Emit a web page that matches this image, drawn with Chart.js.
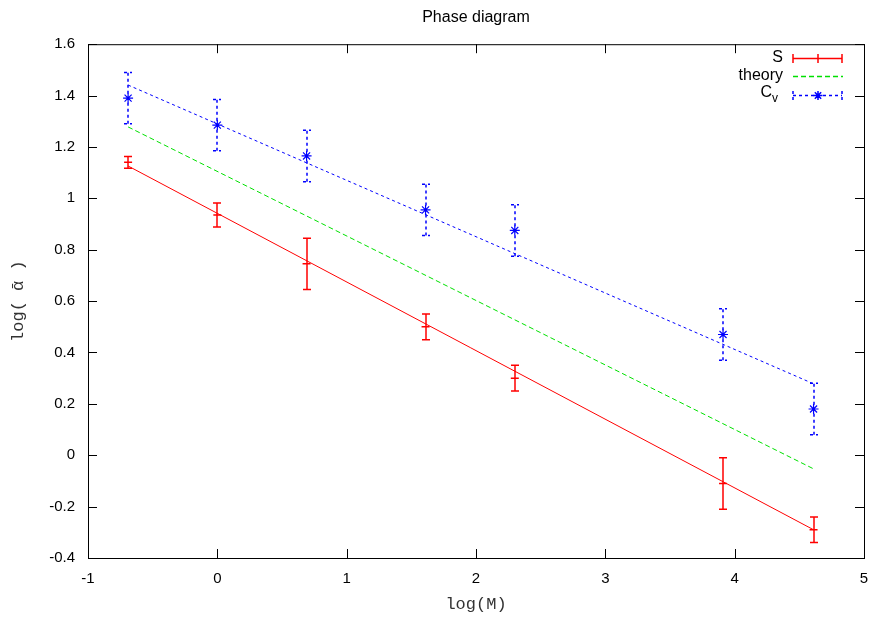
<!DOCTYPE html>
<html>
<head>
<meta charset="utf-8">
<script src="https://cdn.jsdelivr.net/npm/chart.js@4/dist/chart.umd.min.js"></script>
<style>
  html, body { margin: 0; padding: 0; background: #fff; }
  #wrap { width: 875px; height: 618px; }
</style>
</head>
<body>
<div id="wrap"><canvas id="phase" width="875" height="618"></canvas></div>
<script>
// log(M) positions of the measurements
const xVals = [-0.69, 0, 0.69, 1.61, 2.30, 3.91, 4.61];

// S series and its error bars
const sVals = [1.14, 0.935, 0.745, 0.50, 0.30, -0.11, -0.29];
const sErr = [0.023, 0.047, 0.10, 0.05, 0.05, 0.10, 0.05];

// C_v series and its error bars
const cvVals = [1.39, 1.285, 1.165, 0.955, 0.875, 0.47, 0.18];
const cvErr = [0.10, 0.10, 0.10, 0.10, 0.10, 0.10, 0.10];

// fitted lines, given at the two ends of the range
const fitX = [-0.69, 4.61];
const sFit = [1.126, -0.29];
const theoryFit = [1.278, -0.053];
const cvFit = [1.441, 0.278];

// tick labels
const xTicks = [-1, 0, 1, 2, 3, 4, 5];
const yTicks = [-0.4, -0.2, 0, 0.2, 0.4, 0.6, 0.8, 1, 1.2, 1.4, 1.6];

const RED = "#ff0000";
const GREEN = "#00e000";
const BLUE = "#0000ff";
const SANS = "'Liberation Sans', Arial, sans-serif";
const MONO = "'Liberation Mono', 'Courier New', monospace";
const DOTS = [3, 3];

function pts(xs, ys) {
    return xs.map((x, i) => ({ x: x, y: ys[i] }));
}

// vertical error bar with caps, drawn through the scales
function errorBar(ctx, px, yLo, yHi, color, dash) {
    ctx.save();
    ctx.strokeStyle = color;
    ctx.lineWidth = 1.5;
    ctx.setLineDash(dash);
    ctx.beginPath();
    ctx.moveTo(px, yLo);
    ctx.lineTo(px, yHi);
    ctx.moveTo(px - 4, yLo);
    ctx.lineTo(px + 4, yLo);
    ctx.moveTo(px - 4, yHi);
    ctx.lineTo(px + 4, yHi);
    ctx.stroke();
    ctx.restore();
}

const errorBars = {
    id: "errorBars",
    beforeDatasetsDraw(chart) {
        const ctx = chart.ctx;
        const xs = chart.scales.x, ys = chart.scales.y;
        xVals.forEach((x, i) => {
            const px = Math.round(xs.getPixelForValue(x));
            errorBar(ctx, px, ys.getPixelForValue(sVals[i] - sErr[i]), ys.getPixelForValue(sVals[i] + sErr[i]), RED, []);
            errorBar(ctx, px, ys.getPixelForValue(cvVals[i] - cvErr[i]), ys.getPixelForValue(cvVals[i] + cvErr[i]), BLUE, DOTS);
        });
    }
};

// gnuplot-like frame with inward ticks on all four sides, plus the key
const frame = {
    id: "frame",
    afterDraw(chart) {
        const ctx = chart.ctx;
        const a = chart.chartArea;
        const xs = chart.scales.x, ys = chart.scales.y;
        ctx.save();
        ctx.strokeStyle = "#000";
        ctx.lineWidth = 1;
        ctx.strokeRect(a.left + 0.5, a.top + 0.5, a.right - a.left, a.bottom - a.top);
        ctx.beginPath();
        xTicks.forEach(v => {
            const p = Math.round(xs.getPixelForValue(v)) + 0.5;
            ctx.moveTo(p, a.bottom); ctx.lineTo(p, a.bottom - 9);
            ctx.moveTo(p, a.top); ctx.lineTo(p, a.top + 9);
        });
        yTicks.forEach(v => {
            const p = Math.round(ys.getPixelForValue(v)) + 0.5;
            ctx.moveTo(a.left, p); ctx.lineTo(a.left + 9, p);
            ctx.moveTo(a.right, p); ctx.lineTo(a.right - 9, p);
        });
        ctx.stroke();

        // key
        const x0 = 793, x1 = 842, xm = 818;
        ctx.font = "16px " + SANS;
        ctx.fillStyle = "#000";
        ctx.textAlign = "right";
        ctx.textBaseline = "middle";
        ctx.fillText("S", 783, 58);
        ctx.fillText("theory", 783, 76);
        ctx.fillText("C", 772, 93);
        ctx.font = "12px " + SANS;
        ctx.textAlign = "left";
        ctx.fillText("v", 772, 99);

        ctx.lineWidth = 1.5;
        ctx.strokeStyle = RED;
        ctx.setLineDash([]);
        ctx.beginPath();
        ctx.moveTo(x0, 58.5); ctx.lineTo(x1, 58.5);
        ctx.moveTo(x0, 54); ctx.lineTo(x0, 63);
        ctx.moveTo(x1, 54); ctx.lineTo(x1, 63);
        ctx.moveTo(xm, 54); ctx.lineTo(xm, 63);
        ctx.stroke();

        ctx.strokeStyle = GREEN;
        ctx.setLineDash([5, 3]);
        ctx.beginPath();
        ctx.moveTo(x0, 76.5); ctx.lineTo(x1 + 1, 76.5);
        ctx.stroke();

        ctx.strokeStyle = BLUE;
        ctx.setLineDash(DOTS);
        ctx.beginPath();
        ctx.moveTo(x0, 95.5); ctx.lineTo(x1, 95.5);
        ctx.moveTo(x0, 91); ctx.lineTo(x0, 100);
        ctx.moveTo(x1, 91); ctx.lineTo(x1, 100);
        ctx.stroke();
        ctx.setLineDash([]);
        const r = 4.5;
        ctx.beginPath();
        for (let k = 0; k < 4; k++) {
            const ang = k * Math.PI / 4;
            ctx.moveTo(xm - r * Math.cos(ang), 95.5 - r * Math.sin(ang));
            ctx.lineTo(xm + r * Math.cos(ang), 95.5 + r * Math.sin(ang));
        }
        ctx.stroke();
        ctx.restore();
    }
};

new Chart(document.getElementById("phase"), {
    type: "scatter",
    data: {
        datasets: [
            {
                type: "line",
                label: "S fit",
                data: pts(fitX, sFit),
                borderColor: RED,
                borderWidth: 1,
                pointRadius: 0
            },
            {
                type: "line",
                label: "theory",
                data: pts(fitX, theoryFit),
                borderColor: GREEN,
                borderWidth: 1,
                borderDash: [5, 3],
                pointRadius: 0
            },
            {
                type: "line",
                label: "Cv fit",
                data: pts(fitX, cvFit),
                borderColor: BLUE,
                borderWidth: 1,
                borderDash: DOTS,
                pointRadius: 0
            },
            {
                label: "S",
                data: pts(xVals, sVals),
                pointStyle: "line",
                pointRadius: 4,
                borderColor: RED,
                borderWidth: 1.5
            },
            {
                label: "Cv",
                data: pts(xVals, cvVals),
                pointStyle: "star",
                pointRadius: 5,
                borderColor: BLUE,
                borderWidth: 1.2
            }
        ]
    },
    options: {
        responsive: false,
        animation: false,
        layout: { padding: { left: 0, right: 11, top: 0, bottom: 0 } },
        plugins: {
            legend: { display: false },
            tooltip: { enabled: false },
            title: {
                display: true,
                text: "Phase diagram",
                fullSize: false,
                color: "#000",
                font: { family: SANS, size: 16, weight: "normal" },
                padding: { top: 8, bottom: 17 }
            }
        },
        scales: {
            x: {
                type: "linear",
                min: -1,
                max: 5,
                afterBuildTicks: s => { s.ticks = xTicks.map(v => ({ value: v })); },
                afterFit: s => { s.height = 60; },
                grid: { display: false },
                border: { display: false },
                ticks: {
                    color: "#000",
                    padding: 4,
                    font: { family: SANS, size: 15 },
                    callback: v => String(v)
                },
                title: {
                    display: true,
                    text: "log(M)",
                    color: "#333",
                    font: { family: MONO, size: 17 },
                    padding: { top: 0, bottom: 3 }
                }
            },
            y: {
                type: "linear",
                min: -0.4,
                max: 1.6,
                afterBuildTicks: s => { s.ticks = yTicks.map(v => ({ value: v })); },
                afterFit: s => { s.width = 88; },
                grid: { display: false },
                border: { display: false },
                ticks: {
                    color: "#000",
                    padding: 5,
                    font: { family: SANS, size: 15 },
                    callback: v => String(v)
                },
                title: {
                    display: true,
                    text: "log( \u1FB1 )",
                    color: "#333",
                    font: { family: MONO, size: 17 },
                    padding: { top: 8, bottom: 0 }
                }
            }
        }
    },
    plugins: [errorBars, frame]
});
</script>
</body>
</html>
